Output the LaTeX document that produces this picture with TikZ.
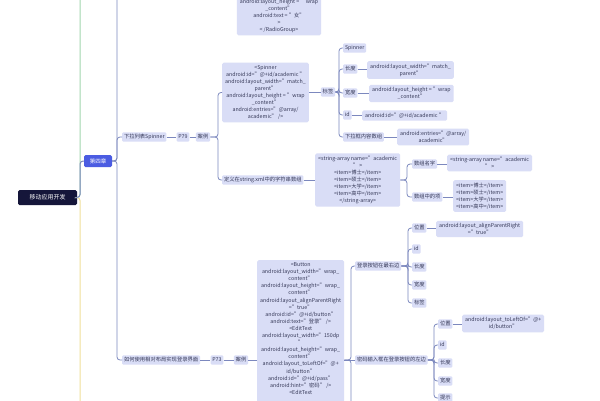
\documentclass[tikz,border=0pt]{standalone}
\usepackage{fontspec}
\setmainfont{Noto Sans CJK SC}
\usetikzlibrary{calc}
\definecolor{lav}{HTML}{D9DDF6}
\definecolor{txt}{HTML}{353857}
\definecolor{lnc}{HTML}{7C88BE}
\definecolor{rootc}{HTML}{15163A}
\definecolor{chc}{HTML}{4B5CE2}
\definecolor{grn}{HTML}{A2D6AE}
\definecolor{ylw}{HTML}{F0E09A}
\newcommand\fsz{\fontsize{5.3}{7.1}\selectfont}
\tikzset{
  lbl/.style={fill=lav, rounded corners=1.2pt, inner xsep=1.8pt, inner ysep=2pt,
    text height=4.2pt, text depth=1.2pt, font=\fsz, text=txt},
  code/.style={fill=lav, rounded corners=1.5pt, inner xsep=3pt, inner ysep=2.5pt,
    font=\fsz, text=txt, align=center},
  rootbox/.style={fill=rootc, rounded corners=1.5pt, text=white, font=\fontsize{6}{7}\selectfont,
    minimum width=59pt, minimum height=15pt},
  chbox/.style={fill=chc, rounded corners=1.5pt, text=white, font=\fontsize{5.5}{7}\selectfont,
    minimum width=28pt, minimum height=12pt},
  conn/.style={draw=lnc, line width=0.8pt, rounded corners=3pt},
}
\begin{document}
\begin{tikzpicture}[x=1pt,y=-1pt]
\useasboundingbox (0,0) rectangle (600,400);
\clip (0,0) rectangle (600,400);
\fill[white] (0,0) rectangle (600,400);

% bus coordinates
\coordinate (bR) at (80,0);
\coordinate (bA) at (117,0);
\coordinate (bB) at (218,0);
\coordinate (bC) at (339,0);
\coordinate (bD) at (407,0);
\coordinate (bE) at (351,0);
\coordinate (bF) at (408,0);
\coordinate (bG) at (434,0);
\coordinate (gtop) at (80,-8);
\coordinate (ybot) at (80,408);
\coordinate (atop) at (117,-8);
\coordinate (ebot) at (351,408);

% nodes
\node[rootbox] (root) at (47.5,197.5) {移动应用开发};
\node[chbox] (ch4) at (98,161) {第四章};

\node[code,anchor=north] (radio) at (279,-4) {android:layout\_height = ”wrap\\\_content”\\android:text = ”女”\\>\\< /RadioGroup>};

\node[lbl,anchor=west] (spin) at (122,137) {下拉列表Spinner};
\node[lbl] (p79) at (183,137) {P79};
\node[lbl] (al1) at (203,137) {案例};
\node[code,anchor=west] (spc) at (222,92.5) {<Spinner\\android:id=”@+id/academic ”\\android:layout\_width=”match\_\\parent”\\android:layout\_height = ”wrap\\\_content”\\android:entries=”@array/\\academic” />};
\node[lbl] (bq) at (328,92) {标签};
\node[lbl,anchor=west] (sp) at (343,48) {Spinner};
\node[lbl,anchor=west] (cd1) at (343,69) {长度};
\node[code,anchor=west] (cdv1) at (367,70) {android:layout\_width=”match\_\\parent”};
\node[lbl,anchor=west] (kd1) at (343,93) {宽度};
\node[code,anchor=west] (kdv1) at (369,93.5) {android:layout\_height = ”wrap\\\_content”};
\node[lbl,anchor=west] (id1) at (343,115) {id};
\node[code,anchor=west] (idv1) at (362,115.5) {android:id=”@+id/academic ”};
\node[lbl,anchor=west] (arr) at (343,137) {下拉框内容数组};
\node[code,anchor=west] (arrv) at (397,137) {android:entries=”@array/\\academic”};

\node[lbl,anchor=west] (sdef) at (222,180) {定义在string.xml中的字符串数组};
\node[code,anchor=west] (sbox) at (315,180) {<string-array name=”academic\\” >\\<item>博士</item>\\<item>硕士</item>\\<item>大学</item>\\<item>高中</item>\\</string-array>};
\node[lbl,anchor=west] (anm) at (412,164) {数组名字};
\node[code,anchor=west] (anmv) at (447,163) {<string-array name=”academic\\” >};
\node[lbl,anchor=west] (aitm) at (412,197) {数组中的项};
\node[code,anchor=west] (aitmv) at (453,196) {<item>博士</item>\\<item>硕士</item>\\<item>大学</item>\\<item>高中</item>};

\node[lbl,anchor=west] (login) at (122,360) {如何使用相对布局实现登录界面};
\node[lbl] (p73) at (217,360) {P73};
\node[lbl] (al2) at (241,360) {案例};
\node[code,anchor=north west] (btc) at (257,260) {<Button\\android:layout\_width=”wrap\_\\content”\\android:layout\_height=”wrap\_\\content”\\android:layout\_alignParentRight\\=”true”\\android:id=”@+id/button”\\android:text=”登录” />\\<EditText\\android:layout\_width=”150dp\\”\\android:layout\_height=”wrap\_\\content”\\android:layout\_toLeftOf=”@+\\id/button”\\android:id=”@+id/pass”\\android:hint=”密码” />\\<EditText\\[60pt]~};

\node[lbl,anchor=west] (btnr) at (355,266) {登录按钮在最右边};
\node[lbl,anchor=west] (wz1) at (412,228) {位置};
\node[code,anchor=west] (wzv1) at (436,229) {android:layout\_alignParentRight\\=”true”};
\node[lbl,anchor=west] (id2) at (412,249) {id};
\node[lbl,anchor=west] (cd2) at (412,267) {长度};
\node[lbl,anchor=west] (kd2) at (412,285) {宽度};
\node[lbl,anchor=west] (bq2) at (412,303) {标签};

\node[lbl,anchor=west] (pwd) at (355,360) {密码输入框在登录按钮的左边};
\node[lbl,anchor=west] (wz2) at (438,324) {位置};
\node[code,anchor=west] (wzv2) at (462,323.5) {android:layout\_toLeftOf=”@+\\id/button”};
\node[lbl,anchor=west] (id3) at (438,345) {id};
\node[lbl,anchor=west] (cd3) at (438,363) {长度};
\node[lbl,anchor=west] (kd3) at (438,381) {宽度};
\node[lbl,anchor=west] (ts3) at (438,398) {提示};

% root branches
\draw[conn,draw=grn,line width=1pt] (root.east) -- (bR |- root.east) -- (gtop);
\draw[conn,draw=ylw,line width=1pt] (root.east) -- (bR |- root.east) -- (ybot);
\draw[conn,line width=1pt] (root.east) -- (bR |- root.east) |- (ch4.west);

% chapter
\draw[conn] (ch4.east) -- (bA |- ch4.east) |- (spin.west);
\draw[conn] (ch4.east) -- (bA |- ch4.east) |- (login.west);
\draw[conn] (ch4.east) -- (bA |- ch4.east) -- (atop);

% spinner
\draw[conn] (spin) -- (p79);
\draw[conn] (p79) -- (al1);
\draw[conn] (al1.east) -- (bB |- al1.east) |- (spc.west);
\draw[conn] (al1.east) -- (bB |- al1.east) |- (sdef.west);
\draw[conn] (bq.west -| spc.east) -- (bq.west);
\foreach \c in {sp,cd1,kd1,id1,arr}{
  \draw[conn] (bq.east) -- (bC |- bq.east) |- (\c.west);
}
\draw[conn] (cd1.east) -- (cd1.east -| cdv1.west);
\draw[conn] (kd1.east) -- (kd1.east -| kdv1.west);
\draw[conn] (id1.east) -- (id1.east -| idv1.west);
\draw[conn] (arr.east) -- (arr.east -| arrv.west);

\draw[conn] (sdef.east) -- (sdef.east -| sbox.west);
\draw[conn] (sbox.east) -- (bD |- sbox.east) |- (anm.west);
\draw[conn] (sbox.east) -- (bD |- sbox.east) |- (aitm.west);
\draw[conn] (anm.east) -- (anm.east -| anmv.west);
\draw[conn] (aitm.east) -- (aitm.east -| aitmv.west);

% login
\draw[conn] (login) -- (p73);
\draw[conn] (p73) -- (al2);
\draw[conn] (al2.east) -- (al2.east -| btc.west);
\draw[conn] (pwd.west -| btc.east) -- (pwd.west);
\draw[conn] (pwd.west -| btc.east) -- (bE |- pwd.west) |- (btnr.west);
\draw[conn] (pwd.west -| btc.east) -- (bE |- pwd.west) -- (ebot);

\foreach \c in {wz1,id2,cd2,kd2,bq2}{
  \draw[conn] (btnr.east) -- (bF |- btnr.east) |- (\c.west);
}
\draw[conn] (wz1.east) -- (wz1.east -| wzv1.west);
\foreach \c in {wz2,id3,cd3,kd3,ts3}{
  \draw[conn] (pwd.east) -- (bG |- pwd.east) |- (\c.west);
}
\draw[conn] (wz2.east) -- (wz2.east -| wzv2.west);
\end{tikzpicture}
\end{document}
